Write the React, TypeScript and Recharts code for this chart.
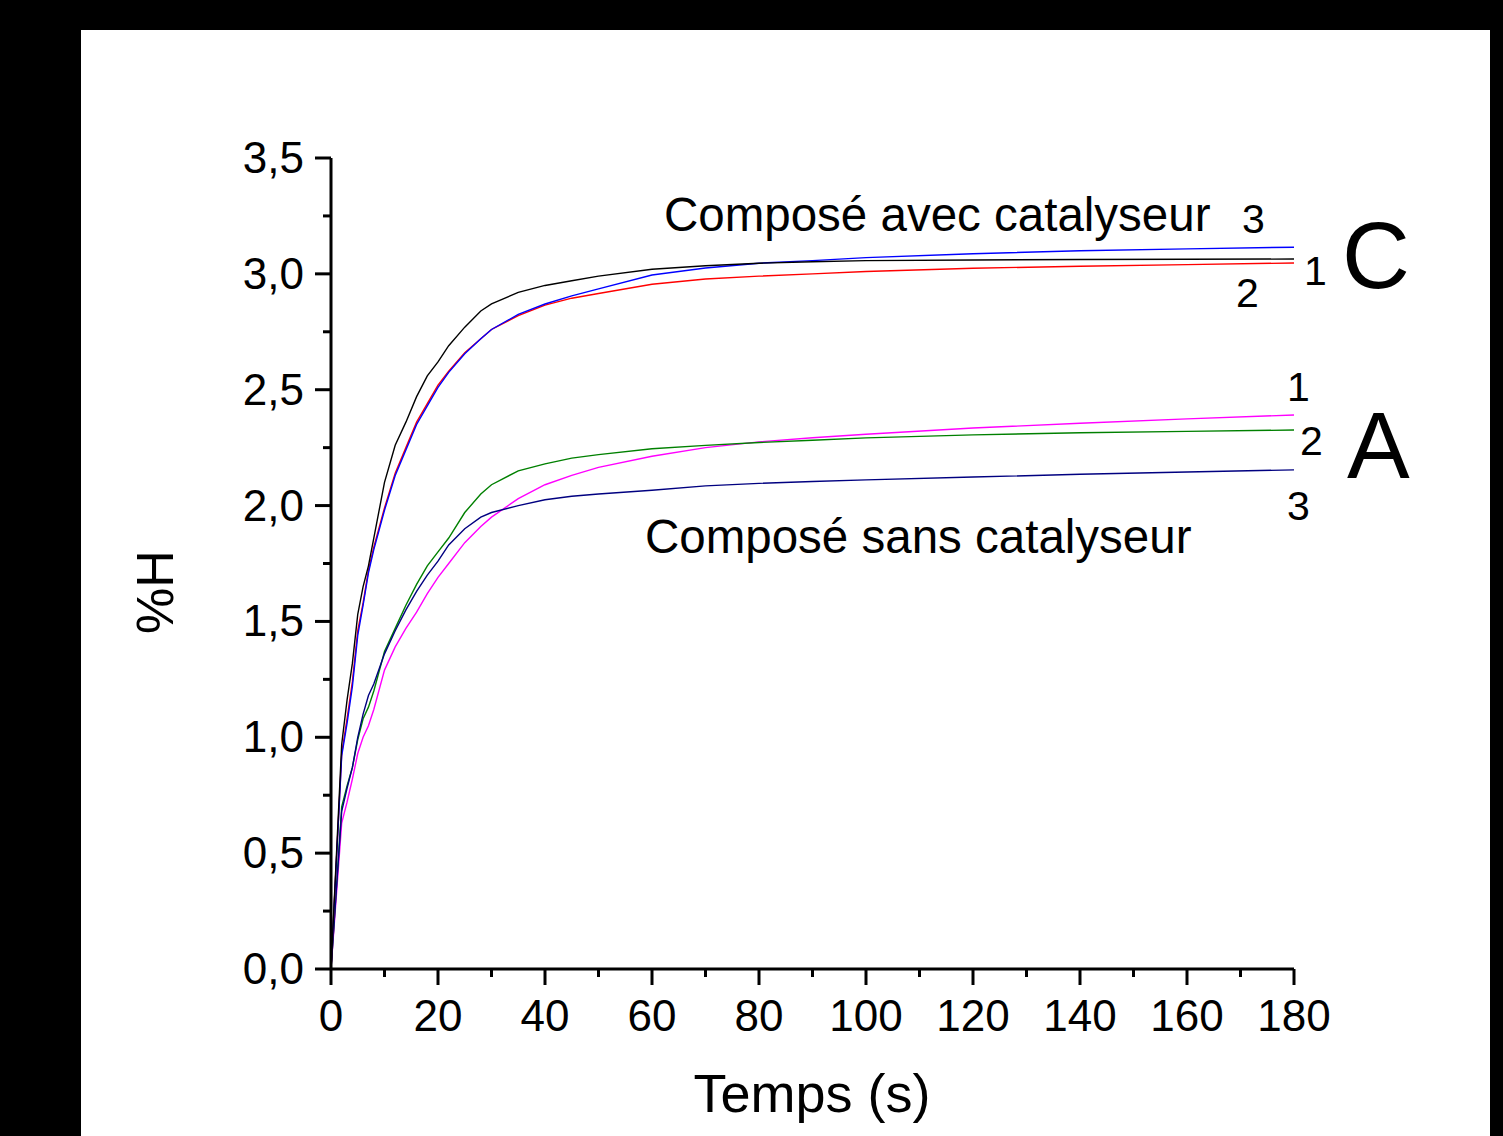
import { LineChart, Line, XAxis, YAxis } from 'recharts';

// time in seconds
const times = [0, 2, 3, 4, 5, 6, 7, 8, 10, 12, 14, 16, 18, 20, 22, 25, 28, 30, 35, 40, 45, 50, 60, 70, 80, 90, 100, 120, 140, 160, 180];

// Composé avec catalyseur (C)
const c1 = [0, 0.97, 1.16, 1.32, 1.53, 1.65, 1.74, 1.86, 2.1, 2.26, 2.36, 2.47, 2.56, 2.62, 2.69, 2.77, 2.84, 2.87, 2.92, 2.95, 2.97, 2.99, 3.02, 3.035, 3.046, 3.052, 3.057, 3.06, 3.062, 3.063, 3.064];
const c2 = [0, 0.93, 1.08, 1.24, 1.46, 1.58, 1.72, 1.82, 1.99, 2.14, 2.25, 2.36, 2.44, 2.52, 2.58, 2.66, 2.72, 2.76, 2.82, 2.865, 2.895, 2.915, 2.955, 2.978, 2.99, 3.0, 3.01, 3.024, 3.033, 3.04, 3.047];
const c3 = [0, 0.92, 1.06, 1.22, 1.44, 1.57, 1.71, 1.81, 1.98, 2.13, 2.24, 2.35, 2.43, 2.51, 2.575, 2.655, 2.72, 2.76, 2.825, 2.87, 2.905, 2.935, 2.995, 3.025, 3.046, 3.057, 3.07, 3.087, 3.1, 3.108, 3.115];

// Composé sans catalyseur (A)
const a1 = [0, 0.63, 0.72, 0.82, 0.93, 1.0, 1.05, 1.12, 1.29, 1.39, 1.47, 1.54, 1.62, 1.69, 1.75, 1.84, 1.91, 1.95, 2.03, 2.09, 2.13, 2.165, 2.213, 2.25, 2.275, 2.293, 2.308, 2.335, 2.355, 2.374, 2.391];
const a2 = [0, 0.7, 0.79, 0.87, 0.99, 1.08, 1.13, 1.2, 1.37, 1.47, 1.57, 1.66, 1.74, 1.8, 1.86, 1.97, 2.05, 2.09, 2.15, 2.18, 2.205, 2.22, 2.245, 2.26, 2.272, 2.282, 2.292, 2.305, 2.314, 2.32, 2.326];
const a3 = [0, 0.68, 0.78, 0.87, 1.0, 1.1, 1.18, 1.23, 1.36, 1.46, 1.55, 1.63, 1.7, 1.76, 1.83, 1.9, 1.95, 1.97, 2.0, 2.025, 2.04, 2.05, 2.066, 2.085, 2.096, 2.104, 2.111, 2.123, 2.135, 2.145, 2.154];

const yTicks = [0, 0.25, 0.5, 0.75, 1, 1.25, 1.5, 1.75, 2, 2.25, 2.5, 2.75, 3, 3.25, 3.5];
const yTickLabels = ['0,0', '0,5', '1,0', '1,5', '2,0', '2,5', '3,0', '3,5'];
const xTicks = [0, 10, 20, 30, 40, 50, 60, 70, 80, 90, 100, 110, 120, 130, 140, 150, 160, 170, 180];
const xTickLabels = ['0', '20', '40', '60', '80', '100', '120', '140', '160', '180'];

const data = times.map((t, i) => ({ t, c1: c1[i], c2: c2[i], c3: c3[i], a1: a1[i], a2: a2[i], a3: a3[i] }));

const FONT = '"Liberation Sans", Arial, sans-serif';

const YTick = (props: any) => {
  const { x, y, index } = props;
  const major = index % 2 === 0;
  return (
    <g>
      <line x1={x} x2={x - (major ? 16 : 8)} y1={y} y2={y} stroke="#000" strokeWidth={3} />
      {major && (
        <text x={x - 27} y={y + 15} textAnchor="end" fontSize={44} fontFamily={FONT} fill="#000">
          {yTickLabels[index / 2]}
        </text>
      )}
    </g>
  );
};

const XTick = (props: any) => {
  const { x, y, index } = props;
  const major = index % 2 === 0;
  return (
    <g>
      <line x1={x} x2={x} y1={y} y2={y + (major ? 16 : 8)} stroke="#000" strokeWidth={3} />
      {major && (
        <text x={x} y={y + 62} textAnchor="middle" fontSize={44} fontFamily={FONT} fill="#000">
          {xTickLabels[index / 2]}
        </text>
      )}
    </g>
  );
};

export default function App() {
  return (
    <div style={{ position: 'absolute', left: 0, top: 0, width: 1503, height: 1136, background: '#000', overflow: 'hidden' }}>
      <div style={{ position: 'absolute', left: 81, top: 30, width: 1409, height: 1106, background: '#fff' }} />
      <div style={{ position: 'absolute', left: 0, top: 0 }}>
        <LineChart width={1503} height={1136} data={data} margin={{ top: 158, right: 209, left: 251, bottom: 107 }}>
          <XAxis
            dataKey="t"
            type="number"
            domain={[0, 180]}
            ticks={xTicks}
            interval={0}
            height={60}
            tickSize={0}
            tickMargin={0}
            tickLine={false}
            axisLine={{ stroke: '#000', strokeWidth: 3 }}
            tick={<XTick />}
          />
          <YAxis
            type="number"
            domain={[0, 3.5]}
            ticks={yTicks}
            interval={0}
            width={80}
            tickSize={0}
            tickMargin={0}
            tickLine={false}
            axisLine={{ stroke: '#000', strokeWidth: 3 }}
            tick={<YTick />}
          />
          <Line type="linear" dataKey="a1" stroke="#ff00ff" strokeWidth={1.4} dot={false} isAnimationActive={false} />
          <Line type="linear" dataKey="a2" stroke="#008000" strokeWidth={1.4} dot={false} isAnimationActive={false} />
          <Line type="linear" dataKey="a3" stroke="#000080" strokeWidth={1.4} dot={false} isAnimationActive={false} />
          <Line type="linear" dataKey="c2" stroke="#ff0000" strokeWidth={1.4} dot={false} isAnimationActive={false} />
          <Line type="linear" dataKey="c3" stroke="#0000ff" strokeWidth={1.4} dot={false} isAnimationActive={false} />
          <Line type="linear" dataKey="c1" stroke="#000000" strokeWidth={1.4} dot={false} isAnimationActive={false} />
        </LineChart>
      </div>
      <svg width={1503} height={1136} style={{ position: 'absolute', left: 0, top: 0, pointerEvents: 'none' }} fontFamily={FONT} fill="#000">
        <text x={664} y={231} fontSize={47.5}>Composé avec catalyseur</text>
        <text x={1242} y={233} fontSize={41}>3</text>
        <text x={1304} y={285} fontSize={41}>1</text>
        <text x={1236} y={307} fontSize={41}>2</text>
        <text x={1342} y={288} fontSize={94}>C</text>
        <text x={1287} y={401} fontSize={41}>1</text>
        <text x={1300} y={455} fontSize={41}>2</text>
        <text x={1287} y={520} fontSize={41}>3</text>
        <text x={1347} y={478} fontSize={94}>A</text>
        <text x={645} y={553} fontSize={47.5}>Composé sans catalyseur</text>
        <text x={812} y={1112} fontSize={54} textAnchor="middle">Temps (s)</text>
        <text x={173} y={592} fontSize={52} textAnchor="middle" transform="rotate(-90 173 592)">%H</text>
      </svg>
    </div>
  );
}
